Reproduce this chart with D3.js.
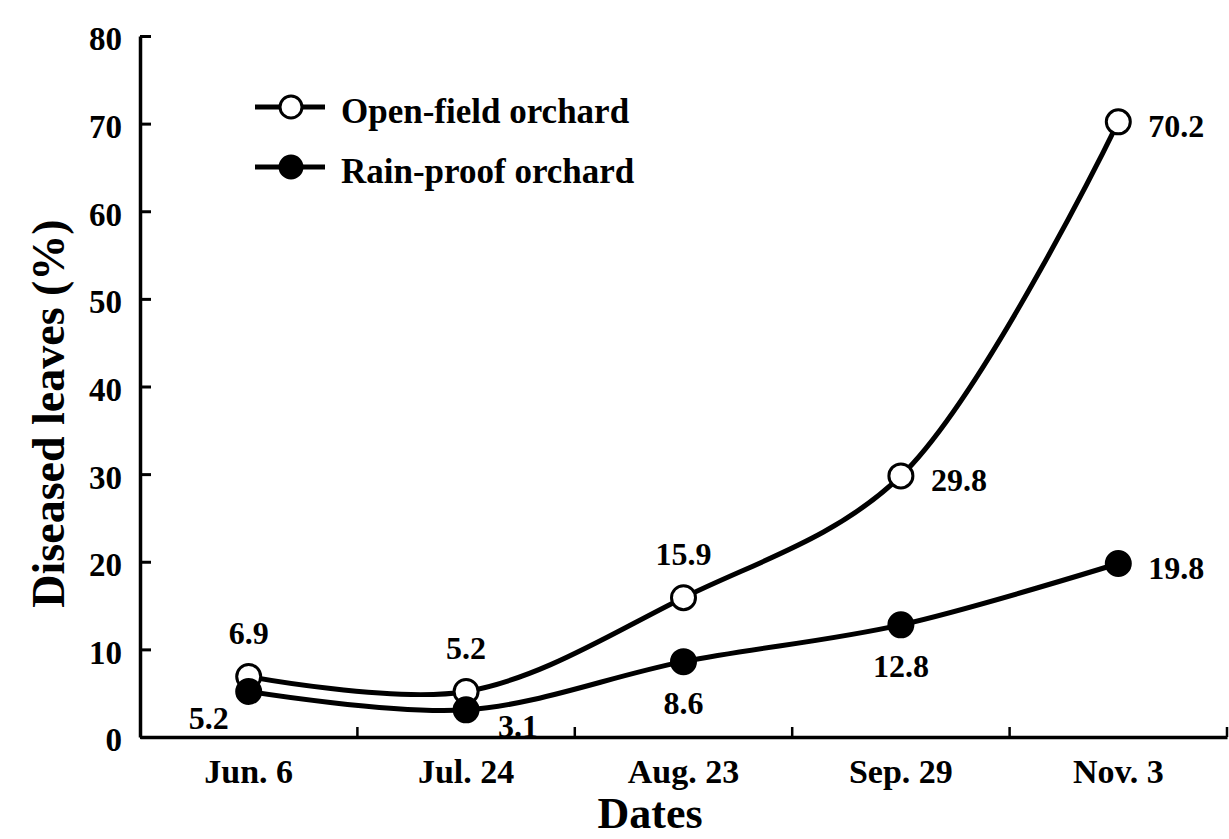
<!DOCTYPE html>
<html>
<head>
<meta charset="utf-8">
<script src="https://cdn.jsdelivr.net/npm/d3@7"></script>
<style>
  body { margin: 0; background: #fff; }
  svg text { font-family: "Liberation Serif", "Times New Roman", serif; font-weight: bold; fill: #000; }
</style>
</head>
<body>
<svg id="chart" width="1229" height="839"></svg>
<script>
// data
let dates = ["Jun. 6", "Jul. 24", "Aug. 23", "Sep. 29", "Nov. 3"];
let open_field = [6.9, 5.2, 15.9, 29.8, 70.2];
let rain_proof = [5.2, 3.1, 8.6, 12.8, 19.8];
let y_ticks = [0, 10, 20, 30, 40, 50, 60, 70, 80];
let series_names = ["Open-field orchard", "Rain-proof orchard"];

// where each value label sits around its point
let open_label_pos = ["top", "top", "top", "right", "right"];
let rain_label_pos = ["bottom-left", "bottom-right", "bottom", "bottom", "right"];

let label_offset = {
  "top": [0, -44],
  "bottom": [0, 41],
  "right": [58, 4],
  "bottom-left": [-40, 26],
  "bottom-right": [52, 16]
};

let svg = d3.select("#chart");

let plot = { "left": 140, "right": 1227, "top": 36, "bottom": 737 };

let x = d3.scaleBand()
          .domain(dates)
          .range([plot.left, plot.right])
          .padding(0);

let y = d3.scaleLinear()
          .domain([0, 80])
          .range([plot.bottom, plot.top]);

let cx = function (d) { return x(d) + x.bandwidth() / 2; };

// y axis, ticks pointing inward
let y_axis = svg.append("g")
  .attr("transform", "translate(" + plot.left + ",0)")
  .call(d3.axisLeft(y).tickValues(y_ticks).tickSize(-11).tickSizeOuter(0).tickPadding(18));
y_axis.select(".domain").attr("stroke", "#000").attr("stroke-width", 3.5);
y_axis.selectAll(".tick line").attr("stroke", "#000").attr("stroke-width", 3);
y_axis.selectAll(".tick text").style("font-size", "33px").attr("dy", "0.42em");

// x axis: labels at band centres, ticks at band edges
let x_axis = svg.append("g")
  .attr("transform", "translate(0," + plot.bottom + ")")
  .call(d3.axisBottom(x).tickSize(0).tickSizeOuter(0).tickPadding(20));
x_axis.select(".domain").attr("stroke", "#000").attr("stroke-width", 3.5);
x_axis.selectAll(".tick text").style("font-size", "34px").attr("dy", "0.75em");

svg.append("g")
  .selectAll("line")
  .data(dates)
  .join("line")
    .attr("x1", d => x(d) + x.bandwidth())
    .attr("x2", d => x(d) + x.bandwidth())
    .attr("y1", plot.bottom)
    .attr("y2", plot.bottom - 10)
    .attr("stroke", "#000")
    .attr("stroke-width", 2.5);

// axis titles
svg.append("text")
  .attr("transform", "translate(64," + ((plot.top + plot.bottom) / 2 + 27) + ") rotate(-90)")
  .attr("text-anchor", "middle")
  .style("font-size", "46px")
  .text("Diseased leaves (%)");

svg.append("text")
  .attr("x", 650)
  .attr("y", 828)
  .attr("text-anchor", "middle")
  .style("font-size", "44px")
  .text("Dates");

// lines
let line = d3.line()
  .x((d, i) => cx(dates[i]))
  .y(d => y(d))
  .curve(d3.curveCatmullRom.alpha(0.5));

let series = [
  { "values": open_field, "fill": "#fff", "pos": open_label_pos },
  { "values": rain_proof, "fill": "#000", "pos": rain_label_pos }
];

series.forEach(function (s) {
  svg.append("path")
    .datum(s.values)
    .attr("d", line)
    .attr("fill", "none")
    .attr("stroke", "#000")
    .attr("stroke-width", 5);
});

series.forEach(function (s) {
  svg.append("g")
    .selectAll("circle")
    .data(s.values)
    .join("circle")
      .attr("cx", (d, i) => cx(dates[i]))
      .attr("cy", d => y(d))
      .attr("r", 12)
      .attr("fill", s.fill)
      .attr("stroke", "#000")
      .attr("stroke-width", 3);

  svg.append("g")
    .selectAll("text")
    .data(s.values)
    .join("text")
      .attr("x", (d, i) => cx(dates[i]) + label_offset[s.pos[i]][0])
      .attr("y", (d, i) => y(d) + label_offset[s.pos[i]][1])
      .attr("dy", "0.35em")
      .attr("text-anchor", "middle")
      .style("font-size", "32px")
      .text(d => d.toFixed(1));
});

// legend
let legend = svg.append("g").attr("transform", "translate(255,107)");
series.forEach(function (s, i) {
  let row = legend.append("g").attr("transform", "translate(0," + (i * 60) + ")");
  row.append("line")
    .attr("x1", 0).attr("x2", 70)
    .attr("stroke", "#000").attr("stroke-width", 5);
  row.append("circle")
    .attr("cx", 36).attr("r", 11)
    .attr("fill", s.fill).attr("stroke", "#000").attr("stroke-width", 3);
  row.append("text")
    .attr("x", 86)
    .attr("y", 4)
    .attr("dy", "0.35em")
    .style("font-size", "35px")
    .text(series_names[i]);
});
</script>
</body>
</html>
